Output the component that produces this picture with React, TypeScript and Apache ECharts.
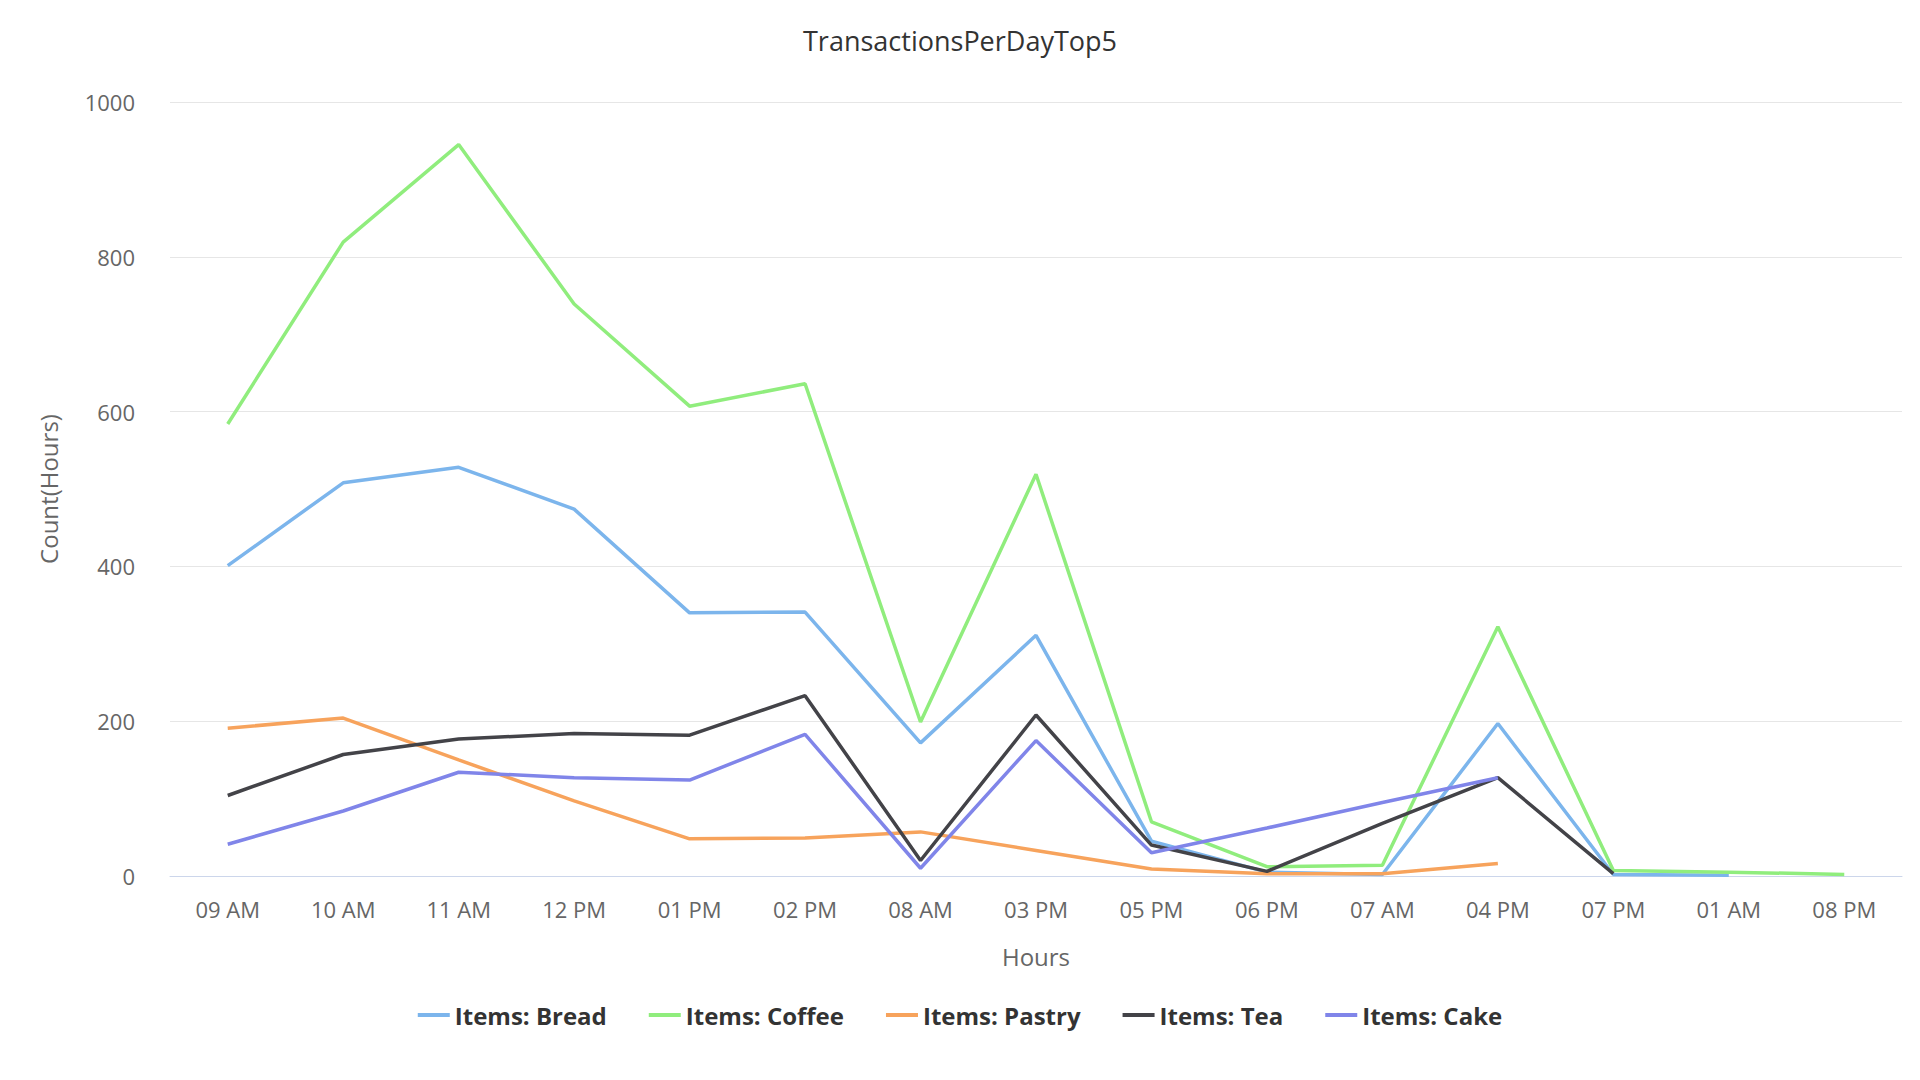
import { useEffect, useRef } from 'react'
import * as echarts from 'echarts'

const hours = ['09 AM', '10 AM', '11 AM', '12 PM', '01 PM', '02 PM', '08 AM', '03 PM', '05 PM', '06 PM', '07 AM', '04 PM', '07 PM', '01 AM', '08 PM']
const bread = [401, 508, 528, 474, 340, 341, 172, 311, 45, 5, 2, 197, 2, 1, null]
const coffee = [584, 819, 945, 739, 607, 636, 199, 519, 70, 12, 14, 322, 7, 5, 2]
const pastry = [191, 204, 150, 97, 48, 49, 57, 33, 9, 3, 3, 16, null, null, null]
const tea = [104, 157, 177, 184, 182, 233, 20, 208, 40, 6, 68, 127, 3, null, null]
const cake = [41, 84, 134, 127, 124, 183, 10, 175, 30, 62, 95, 127, null, null, null]

const series = [
  { name: 'Items: Bread', data: bread, color: '#7cb5ec' },
  { name: 'Items: Coffee', data: coffee, color: '#90ed7d' },
  { name: 'Items: Pastry', data: pastry, color: '#f7a35c' },
  { name: 'Items: Tea', data: tea, color: '#434348' },
  { name: 'Items: Cake', data: cake, color: '#8085e9' },
]

export default function App() {
  const ref = useRef<HTMLDivElement>(null)

  useEffect(() => {
    if (!ref.current) return
    const chart = echarts.init(ref.current, null, { renderer: 'svg' })
    chart.setOption({
      animation: false,
      textStyle: { fontFamily: '"Open Sans", Lato, sans-serif' },
      title: {
        text: 'TransactionsPerDayTop5',
        left: 'center',
        top: 14,
        textStyle: { fontSize: 27, fontWeight: 'normal', color: '#333' },
      },
      legend: {
        bottom: 40,
        itemWidth: 32,
        itemHeight: 4,
        itemGap: 42,
        icon: 'rect',
        textStyle: { fontSize: 24, fontWeight: 'bold', color: '#333' },
        data: series.map(s => s.name),
      },
      grid: { left: 162, right: 10, top: 94, bottom: 196 },
      xAxis: {
        type: 'category',
        data: hours,
        name: 'Hours',
        nameLocation: 'middle',
        nameGap: 68,
        nameTextStyle: { fontSize: 24, color: '#666' },
        axisLine: { lineStyle: { color: '#ccd6eb' } },
        axisTick: { show: false },
        axisLabel: { fontSize: 22, color: '#666', margin: 22 },
      },
      yAxis: {
        type: 'value',
        min: 0,
        max: 1000,
        interval: 200,
        name: 'Count(Hours)',
        nameLocation: 'middle',
        nameGap: 110,
        nameTextStyle: { fontSize: 24, color: '#666' },
        axisLabel: { fontSize: 22, color: '#666', margin: 35, formatter: (v: number) => String(v) },
        splitLine: { lineStyle: { color: '#e6e6e6' } },
      },
      series: series.map(s => ({
        type: 'line',
        name: s.name,
        data: s.data,
        color: s.color,
        showSymbol: false,
        lineStyle: { width: 3.5 },
      })),
    })
    return () => chart.dispose()
  }, [])

  return <div ref={ref} style={{ width: 1904, height: 1064 }} />
}
